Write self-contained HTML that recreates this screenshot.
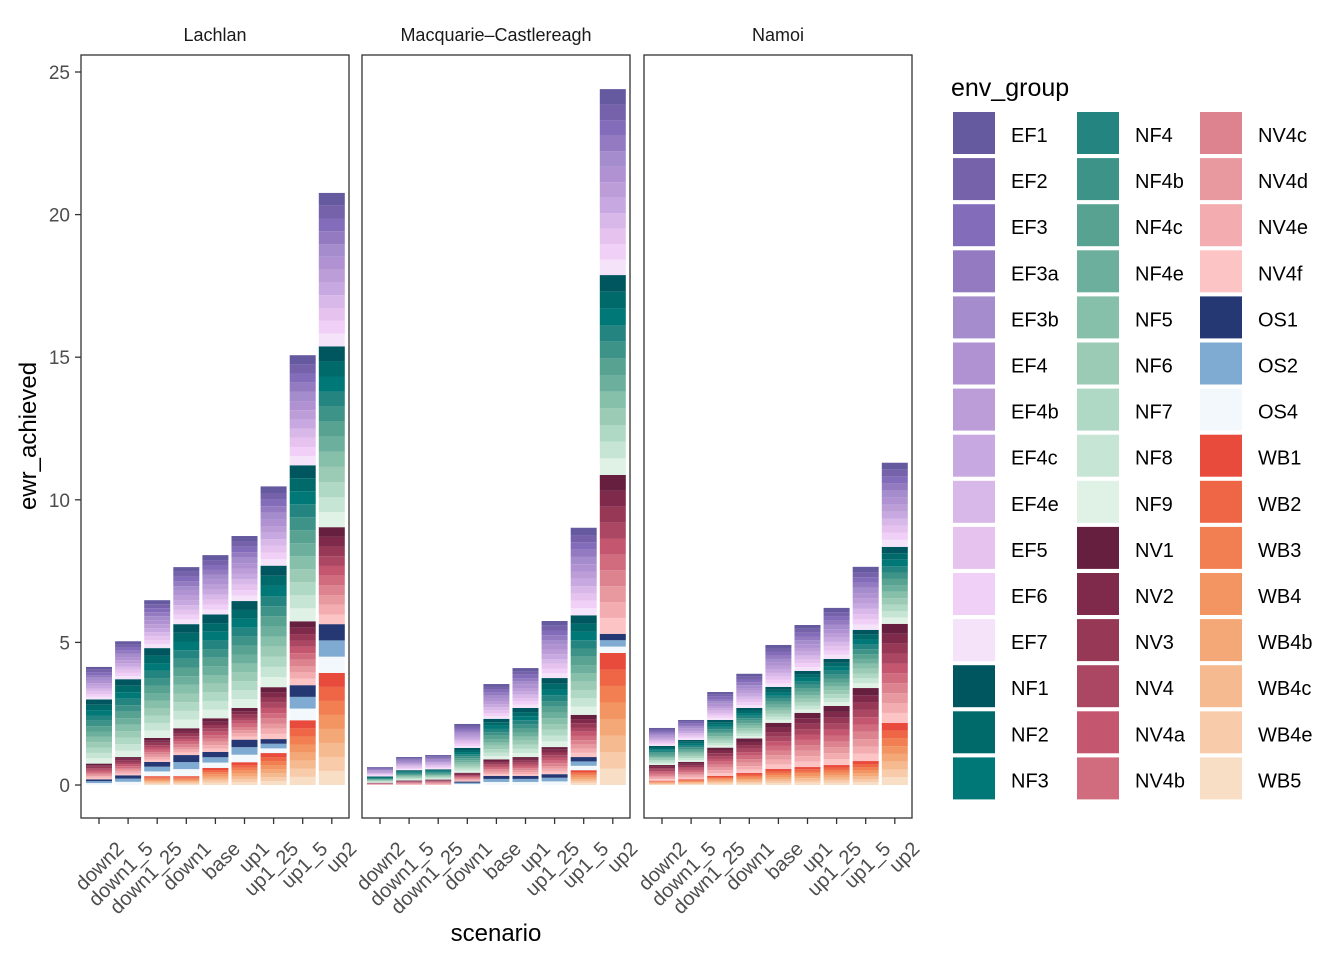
<!DOCTYPE html>
<html><head><meta charset="utf-8"><style>
body{margin:0;background:#fff;font-family:"Liberation Sans",Arial,sans-serif}
svg text{font-family:"Liberation Sans",Arial,sans-serif}
</style></head><body>
<svg id="c" width="1344" height="960" xmlns="http://www.w3.org/2000/svg"></svg>
<script>
const panels = ["Lachlan","Macquarie\u2013Castlereagh","Namoi"];
const scenarios = ["down2","down1_5","down1_25","down1","base","up1","up1_25","up1_5","up2"];
const groups = ["EF1","EF2","EF3","EF3a","EF3b","EF4","EF4b","EF4c","EF4e","EF5","EF6","EF7",
"NF1","NF2","NF3","NF4","NF4b","NF4c","NF4e","NF5","NF6","NF7","NF8","NF9",
"NV1","NV2","NV3","NV4","NV4a","NV4b","NV4c","NV4d","NV4e","NV4f",
"OS1","OS2","OS4","WB1","WB2","WB3","WB4","WB4b","WB4c","WB4e","WB5"];
const colors = ["#655a9f","#7562ab","#836cb9","#947bc1","#a58ccc","#b092d2","#bc9dd8","#c8a8e0","#d8b8e8","#e6c2ef","#f0d0f7","#f5e4f9",
"#00565f","#006a6a","#007877","#248580","#3e9388","#58a292","#6caf9c","#86bfaa","#9bcab5","#b0d9c5","#c6e5d4","#e0f1e6",
"#661f3e","#7f2a4a","#963856","#ab4762","#c4566f","#d16c7e","#dd838f","#e8989f","#f3adb1","#fcc4c5",
"#263873","#7faad2","#f3f8fc","#e84b3c","#ee6645","#f17f52","#f39562","#f5a877","#f6ba91","#f8ccaa","#f9dec6"];
// family totals per bar, stacked bottom-up: WB, OS, NV, NF, EF
const lachlanWB = [0,0,0.31,0.31,0.6,0.8,1.12,2.27,3.93];
const lachlanOS = [0.2,0.34,0.5,0.74,0.56,0.79,0.49,1.23,1.71];
const lachlanNV = [0.55,0.64,0.84,0.94,1.18,1.11,1.82,2.24,3.4];
const lachlanNF = [2.25,2.73,3.15,3.65,3.64,3.75,4.26,5.47,6.34];
const lachlanEF = [1.14,1.33,1.68,2.0,2.08,2.28,2.78,3.86,5.38];
const macqWB = [0,0,0,0,0,0,0,0.52,4.63];
const macqOS = [0,0,0,0.12,0.32,0.32,0.38,0.46,0.67];
const macqNV = [0.08,0.16,0.19,0.31,0.58,0.66,0.95,1.48,5.57];
const macqNF = [0.22,0.36,0.36,0.87,1.42,1.72,2.42,3.49,7.01];
const macqEF = [0.33,0.46,0.5,0.84,1.22,1.4,2.0,3.07,6.52];
const namoiWB = [0.15,0.2,0.32,0.42,0.56,0.63,0.7,0.84,2.18];
const namoiOS = [0,0,0,0,0,0,0,0,0];
const namoiNV = [0.55,0.61,0.99,1.21,1.62,1.9,2.07,2.56,3.47];
const namoiNF = [0.67,0.77,0.97,1.07,1.26,1.47,1.65,2.04,2.7];
const namoiEF = [0.63,0.7,0.98,1.2,1.47,1.61,1.79,2.21,2.95];
const data = [[lachlanWB,lachlanOS,lachlanNV,lachlanNF,lachlanEF],[macqWB,macqOS,macqNV,macqNF,macqEF],[namoiWB,namoiOS,namoiNV,namoiNF,namoiEF]];
const yTicks = [0,5,10,15,20,25];

(function(){
const svg = document.getElementById('c');
const NS = "http://www.w3.org/2000/svg";
function mk(tag, attrs, parent){const e=document.createElementNS(NS,tag);for(const k in attrs)e.setAttribute(k,attrs[k]);(parent||svg).appendChild(e);return e;}
const panelX = [81,362,644], panelW = 268, pTop = 55, pBottom = 818;
const y = v => 785 - v*28.52;
const xc = (p,i) => panelX[p] + 18 + i*29.1;
const famIdx = [[37,45],[34,37],[24,34],[12,24],[0,12]]; // WB,OS,NV,NF,EF

for(let p=0;p<3;p++){
  const g = mk('g',{});
  
  
  for(let i=0;i<9;i++){
    let cum=0;
    for(let f=0;f<5;f++){
      const [a,b]=famIdx[f];
      const tot=data[p][f][i];
      const n=b-a;
      for(let k=b-1;k>=a;k--){
        const v=tot/n;
        if(v<=0) continue;
        const r=mk('rect',{x:xc(p,i)-13,y:y(cum+v),width:26,height:Math.max(0,y(cum)-y(cum+v)),fill:colors[k]},g);
        
        
        cum+=v;
      }
    }
  }
  const fr=mk('rect',{x:panelX[p],y:pTop,width:panelW,height:pBottom-pTop,fill:'none',stroke:'#333',"stroke-width":1.3});
  
  
  const st=mk('text',{x:panelX[p]+panelW/2,y:41,"text-anchor":"middle","font-size":18,fill:'#1a1a1a'});
  st.textContent=panels[p];
  
  
  for(let i=0;i<9;i++){
    const x=xc(p,i);
    mk('line',{x1:x,x2:x,y1:pBottom,y2:pBottom+6,stroke:'#333',"stroke-width":1.3});
    const lx=x+26, ly=pBottom+32;
    const t=mk('text',{x:lx,y:ly,"text-anchor":"end","font-size":20,fill:'#4d4d4d',transform:`rotate(-45 ${lx} ${ly})`});
    t.textContent=scenarios[i];
    
    
  }
}
for(const v of yTicks){
  mk('line',{x1:75,x2:81,y1:y(v),y2:y(v),stroke:'#333',"stroke-width":1.3});
  const t=mk('text',{x:70,y:y(v)+7,"text-anchor":"end","font-size":19,fill:'#4d4d4d'});
  t.textContent=v;
  
  
}
let t=mk('text',{x:36,y:436,"text-anchor":"middle","font-size":24,fill:'#000',transform:'rotate(-90 36 436)'});
t.textContent='ewr_achieved';


t=mk('text',{x:496,y:941,"text-anchor":"middle","font-size":24,fill:'#000'});
t.textContent='scenario';


t=mk('text',{x:951,y:96,"font-size":25,fill:'#000'});
t.textContent='env_group';


const legCols=[953,1077,1200];
[groups.slice(0,15),groups.slice(15,30),groups.slice(30,45)].forEach((col,c)=>{
  col.forEach((gn,r)=>{
    const k=groups.indexOf(gn);
    const yy=112+r*46.1;
    const rr=mk('rect',{x:legCols[c],y:yy,width:42,height:42,fill:colors[k]});
    
    
    const lt=mk('text',{x:legCols[c]+58,y:yy+30,"font-size":20,fill:'#000'});
    lt.textContent=gn;
    
    
  });
});
})();
</script>
</body></html>
